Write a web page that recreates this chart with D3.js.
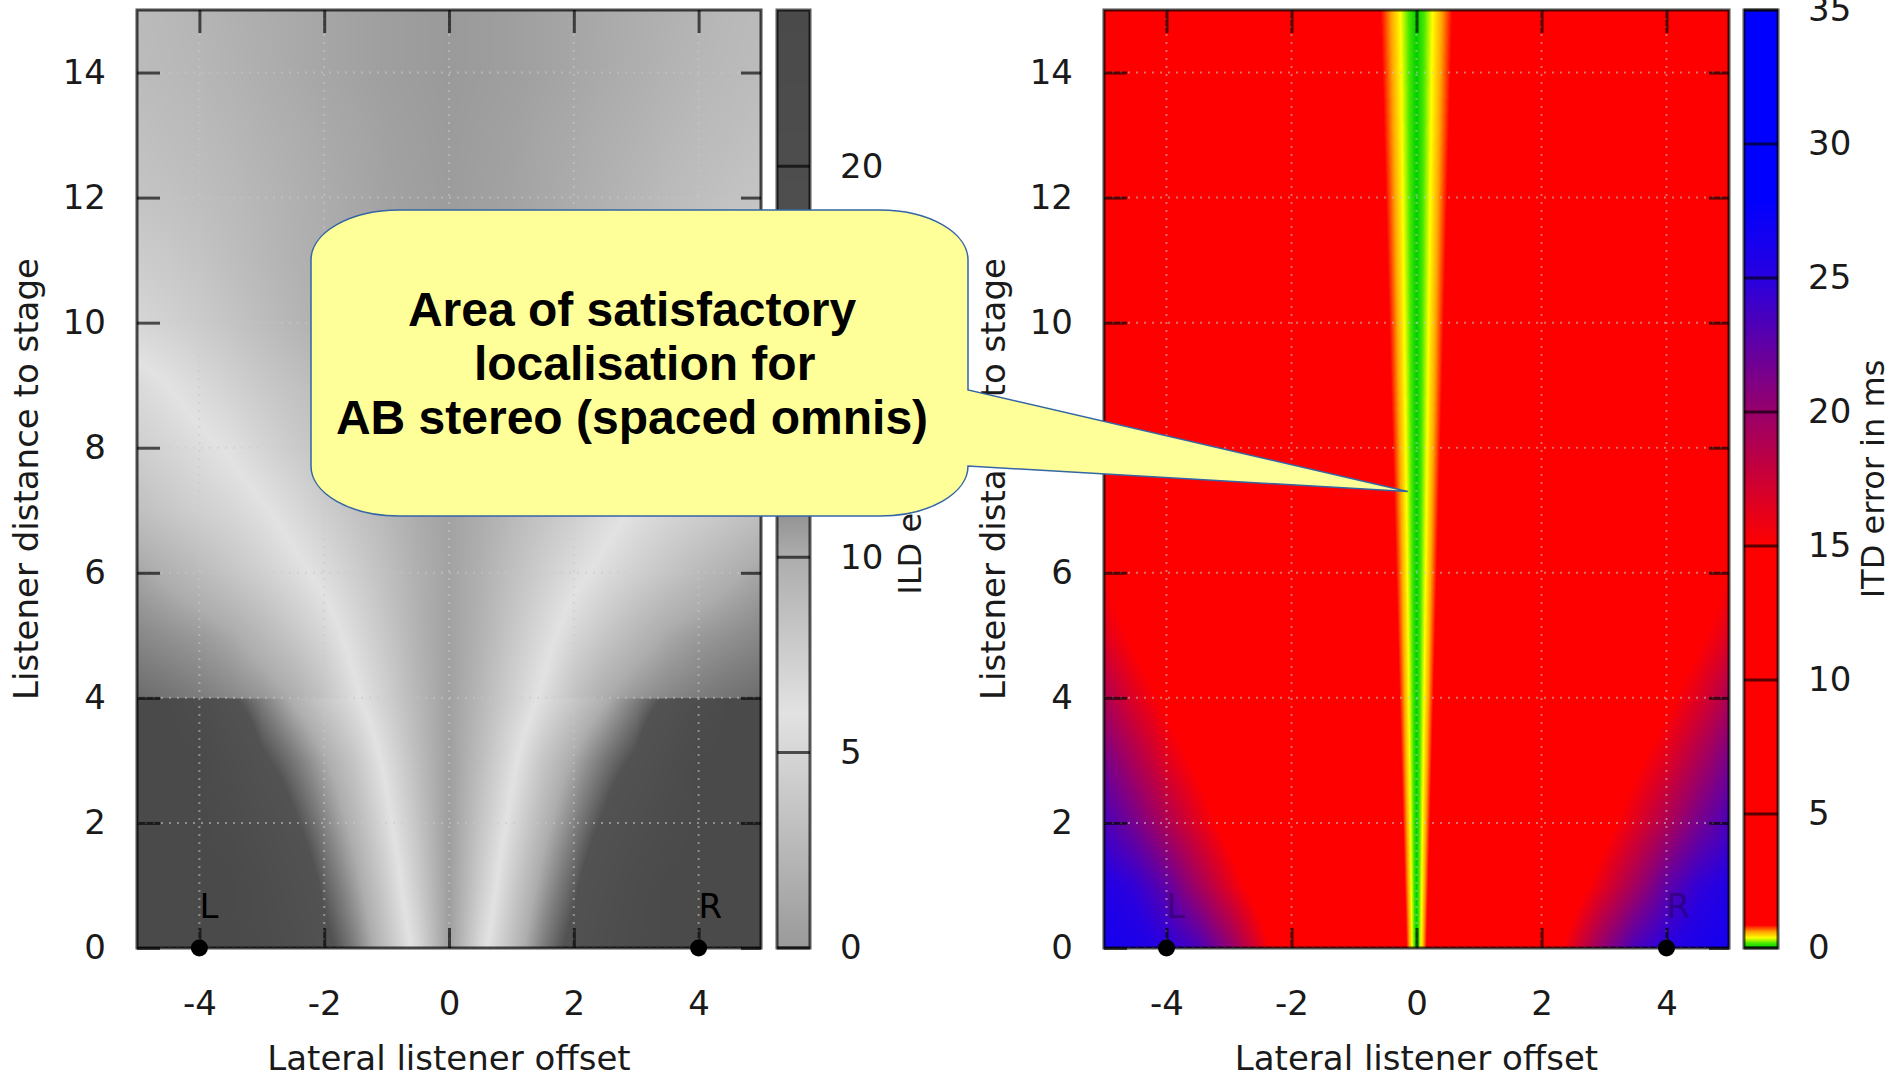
<!DOCTYPE html>
<html>
<head>
<meta charset="utf-8">
<script src="https://cdn.jsdelivr.net/npm/d3@7"></script>
<style>
  html, body { margin: 0; padding: 0; background: #ffffff; }
  svg { display: block; font-family: "DejaVu Sans", sans-serif; }
</style>
</head>
<body>
<svg id="chart" width="1891" height="1077"></svg>
<script>
// ---------------------------------------------------------------
// Axis ticks
// ---------------------------------------------------------------
const xTicks = [-4, -2, 0, 2, 4];
const yTicks = [0, 2, 4, 6, 8, 10, 12, 14];
const ildTicks = [0, 5, 10, 15, 20];
const itdTicks = [0, 5, 10, 15, 20, 25, 30, 35];

// Loudspeaker positions on the stage line (lateral offset)
const speakers = [{ name: "L", x: -4 }, { name: "R", x: 4 }];

// ---------------------------------------------------------------
// Sampled error fields: columns = lateral offset, rows = distance
// ---------------------------------------------------------------
const gridX = [-5, -4.5, -4, -3.5, -3, -2.5, -2, -1.5, -1, -0.5, 0, 0.5, 1, 1.5, 2, 2.5, 3, 3.5, 4, 4.5, 5];

// ILD error in dB
const ildRowsY = [0, 1, 2, 3, 3.98, 4, 5, 6, 7, 8, 9, 10, 11, 12, 13, 14, 15];
const ildValues = [
  [24, 24, 24, 24, 22, 19, 15, 12, 8.6, 5.2, 0.3, 5.2, 8.6, 12, 15, 19, 22, 24, 24, 24, 24],
  [24, 24, 24, 24, 21, 17, 13.4, 10.6, 7.6, 4.2, 0.3, 4.2, 7.6, 10.6, 13.4, 17, 21, 24, 24, 24, 24],
  [24, 24, 24, 22, 18, 14.5, 11.8, 9.3, 6.5, 3.5, 0.3, 3.5, 6.5, 9.3, 11.8, 14.5, 18, 22, 24, 24, 24],
  [24, 24, 24, 19, 14.5, 12.4, 10.2, 8.1, 5.5, 2.9, 0.4, 2.9, 5.5, 8.1, 10.2, 12.4, 14.5, 19, 24, 24, 24],
  [24, 24, 20, 14.5, 12.0, 9.8, 8.0, 6.3, 4.4, 2.4, 0.5, 2.4, 4.4, 6.3, 8.0, 9.8, 12.0, 14.5, 20, 24, 24],
  [12.8, 12.5, 12.1, 11.6, 11, 10, 8.4, 6.3, 4.4, 2.4, 0.5, 2.4, 4.4, 6.3, 8.4, 10, 11, 11.6, 12.1, 12.5, 12.8],
  [11.6, 11.2, 10.8, 10.2, 9.2, 8.1, 6.9, 5.3, 3.7, 2.0, 0.6, 2.0, 3.7, 5.3, 6.9, 8.1, 9.2, 10.2, 10.8, 11.2, 11.6],
  [10.4, 9.7, 9.0, 8.2, 7.4, 6.5, 5.5, 4.3, 3.1, 1.8, 0.7, 1.8, 3.1, 4.3, 5.5, 6.5, 7.4, 8.2, 9.0, 9.7, 10.4],
  [8.6, 8.0, 7.4, 6.9, 6.2, 5.3, 4.3, 3.4, 2.5, 1.5, 0.7, 1.5, 2.5, 3.4, 4.3, 5.3, 6.2, 6.9, 7.4, 8.0, 8.6],
  [7.5, 7.0, 6.4, 5.8, 4.9, 4.1, 3.4, 2.7, 1.9, 1.2, 0.6, 1.2, 1.9, 2.7, 3.4, 4.1, 4.9, 5.8, 6.4, 7.0, 7.5],
  [6.6, 6.0, 5.3, 4.6, 3.9, 3.3, 2.7, 2.1, 1.5, 1.0, 0.5, 1.0, 1.5, 2.1, 2.7, 3.3, 3.9, 4.6, 5.3, 6.0, 6.6],
  [5.0, 4.6, 4.1, 3.5, 2.9, 2.3, 1.8, 1.3, 0.9, 0.7, 0.4, 0.7, 0.9, 1.3, 1.8, 2.3, 2.9, 3.5, 4.1, 4.6, 5.0],
  [4.2, 3.9, 3.5, 3.0, 2.5, 2.0, 1.6, 1.2, 0.85, 0.6, 0.3, 0.6, 0.85, 1.2, 1.6, 2.0, 2.5, 3.0, 3.5, 3.9, 4.2],
  [3.5, 3.3, 3.0, 2.7, 2.3, 1.9, 1.5, 1.1, 0.7, 0.45, 0.2, 0.45, 0.7, 1.1, 1.5, 1.9, 2.3, 2.7, 3.0, 3.3, 3.5],
  [3.2, 2.9, 2.7, 2.4, 2.0, 1.7, 1.3, 1.0, 0.6, 0.35, 0.1, 0.35, 0.6, 1.0, 1.3, 1.7, 2.0, 2.4, 2.7, 2.9, 3.2],
  [2.8, 2.6, 2.4, 2.05, 1.7, 1.35, 1.0, 0.7, 0.4, 0.2, 0, 0.2, 0.4, 0.7, 1.0, 1.35, 1.7, 2.05, 2.4, 2.6, 2.8],
  [2.7, 2.5, 2.2, 1.9, 1.6, 1.3, 1.0, 0.7, 0.4, 0.2, 0, 0.2, 0.4, 0.7, 1.0, 1.3, 1.6, 1.9, 2.2, 2.5, 2.7]
];

// ITD error in ms
const itdRowsY = [0, 1, 2, 3, 4, 5, 6, 7, 8, 9, 10, 11, 12, 13, 14, 15];
const itdValues = [
  [26.5, 26, 25, 23.5, 20.5, 16.5, 12, 9, 6, 2.66, 0, 2.66, 6, 9, 12, 16.5, 20.5, 23.5, 25, 26, 26.5],
  [25.5, 24.5, 22.5, 19.5, 16.5, 13.5, 10, 7.5, 5, 2.27, 0, 2.27, 5, 7.5, 10, 13.5, 16.5, 19.5, 22.5, 24.5, 25.5],
  [23.5, 21.5, 19, 16.5, 14, 11, 8.5, 6.5, 4.3, 1.98, 0, 1.98, 4.3, 6.5, 8.5, 11, 14, 16.5, 19, 21.5, 23.5],
  [21.5, 19, 16.5, 14.5, 12.5, 9.5, 7.5, 5.7, 3.8, 1.75, 0, 1.75, 3.8, 5.7, 7.5, 9.5, 12.5, 14.5, 16.5, 19, 21.5],
  [19, 16.5, 14.5, 12.5, 10.5, 8.6, 6.8, 5.1, 3.4, 1.57, 0, 1.57, 3.4, 5.1, 6.8, 8.6, 10.5, 12.5, 14.5, 16.5, 19],
  [16.5, 14.5, 12.8, 11, 9.5, 7.8, 6.2, 4.6, 3.1, 1.43, 0, 1.43, 3.1, 4.6, 6.2, 7.8, 9.5, 11, 12.8, 14.5, 16.5],
  [15, 13, 11.5, 10, 8.8, 7.2, 5.7, 4.3, 2.9, 1.31, 0, 1.31, 2.9, 4.3, 5.7, 7.2, 8.8, 10, 11.5, 13, 15],
  [13.4, 12, 10.7, 9.4, 8.2, 6.7, 5.3, 4.0, 2.7, 1.21, 0, 1.21, 2.7, 4.0, 5.3, 6.7, 8.2, 9.4, 10.7, 12, 13.4],
  [12.4, 11.2, 10, 8.8, 7.6, 6.3, 5.0, 3.7, 2.5, 1.12, 0, 1.12, 2.5, 3.7, 5.0, 6.3, 7.6, 8.8, 10, 11.2, 12.4],
  [11.6, 10.5, 9.4, 8.3, 7.1, 5.9, 4.7, 3.5, 2.3, 1.04, 0, 1.04, 2.3, 3.5, 4.7, 5.9, 7.1, 8.3, 9.4, 10.5, 11.6],
  [10.9, 9.9, 8.9, 7.8, 6.7, 5.5, 4.4, 3.3, 2.15, 0.98, 0, 0.98, 2.15, 3.3, 4.4, 5.5, 6.7, 7.8, 8.9, 9.9, 10.9],
  [10.3, 9.3, 8.4, 7.3, 6.3, 5.2, 4.1, 3.1, 2.0, 0.92, 0, 0.92, 2.0, 3.1, 4.1, 5.2, 6.3, 7.3, 8.4, 9.3, 10.3],
  [9.7, 8.8, 7.9, 6.9, 5.9, 4.9, 3.9, 2.9, 1.85, 0.87, 0, 0.87, 1.85, 2.9, 3.9, 4.9, 5.9, 6.9, 7.9, 8.8, 9.7],
  [9.2, 8.3, 7.5, 6.5, 5.6, 4.6, 3.7, 2.7, 1.68, 0.82, 0, 0.82, 1.68, 2.7, 3.7, 4.6, 5.6, 6.5, 7.5, 8.3, 9.2],
  [8.7, 7.9, 7.1, 6.2, 5.3, 4.4, 3.5, 2.5, 1.56, 0.78, 0, 0.78, 1.56, 2.5, 3.5, 4.4, 5.3, 6.2, 7.1, 7.9, 8.7],
  [8.3, 7.5, 6.7, 5.9, 5.0, 4.2, 3.3, 2.4, 1.50, 0.74, 0, 0.74, 1.50, 2.4, 3.3, 4.2, 5.0, 5.9, 6.7, 7.5, 8.3]
];

// Palettes
const ildStops = [0, 6, 10, 12, 14, 24];
const ildColors = ["#9a9a9a", "#e2e2e2", "#adadad", "#7e7e7e", "#525252", "#4a4a4a"];
const itdStops = [0, 0.18, 0.38, 0.6, 0.85, 15, 20, 25, 28, 35];
const itdColors = ["#00d000", "#48e800", "#ffff00", "#ffa500", "#ff0000", "#ff0000", "#98006a", "#2800e0", "#0000ff", "#0000ff"];

// Annotation
const calloutLines = ["Area of satisfactory", " localisation for", "AB stereo (spaced omnis)"];
const calloutTarget = { x: -0.14, y: 7.3 };

// ---------------------------------------------------------------
// Layout
// ---------------------------------------------------------------
const TOP = 10, BOTTOM = 948;
const svg = d3.select("#chart");

const panels = [
  { left: 137, right: 761, bar: [777, 810], rowsY: ildRowsY, values: ildValues,
    stops: ildStops, colors: ildColors, cMax: 24, cTicks: ildTicks,
    cTitle: "ILD error in dB", cTitleX: 921, yTitleX: 38, markerOpacity: 1 },
  { left: 1104, right: 1729, bar: [1744, 1778], rowsY: itdRowsY, values: itdValues,
    stops: itdStops, colors: itdColors, cMax: 35, cTicks: itdTicks,
    cTitle: "ITD error in ms", cTitleX: 1884, yTitleX: 1005, markerOpacity: 0.3 }
];

function makeLut(stops, colors, vmax, n) {
  const s = d3.scaleLinear().domain(stops).range(colors)
    .interpolate(d3.interpolateRgb).clamp(true);
  const lut = new Uint8ClampedArray(n * 3);
  for (let k = 0; k < n; k++) {
    const c = d3.rgb(s((k / (n - 1)) * vmax));
    lut[3 * k] = c.r; lut[3 * k + 1] = c.g; lut[3 * k + 2] = c.b;
  }
  return { lut, n, vmax };
}

function lookup(L, v, data, o) {
  let k = Math.round((v / L.vmax) * (L.n - 1));
  k = k < 0 ? 0 : (k >= L.n ? L.n - 1 : k);
  data[o] = L.lut[3 * k]; data[o + 1] = L.lut[3 * k + 1]; data[o + 2] = L.lut[3 * k + 2]; data[o + 3] = 255;
}

function cellIndex(arr, v) {
  const i = d3.bisectRight(arr, v) - 1;
  return Math.max(0, Math.min(arr.length - 2, i));
}

// Shade the field on a pixel raster (bilinear shading between samples)
function rasterField(x, y, xs, ys, vals, L) {
  const [left, right] = x.range();
  const [bottom, top] = y.range();
  const w = Math.round(right - left), h = Math.round(bottom - top);
  const canvas = document.createElement("canvas");
  canvas.width = w; canvas.height = h;
  const ctx = canvas.getContext("2d");
  const img = ctx.createImageData(w, h);
  const colIdx = new Int32Array(w), colT = new Float64Array(w);
  for (let i = 0; i < w; i++) {
    const xv = x.invert(left + i + 0.5);
    const c = cellIndex(xs, xv);
    colIdx[i] = c;
    colT[i] = Math.max(0, Math.min(1, (xv - xs[c]) / (xs[c + 1] - xs[c])));
  }
  for (let j = 0; j < h; j++) {
    const yv = y.invert(top + j + 0.5);
    const r = cellIndex(ys, yv);
    const ty = Math.max(0, Math.min(1, (yv - ys[r]) / (ys[r + 1] - ys[r])));
    const A = vals[r], B = vals[r + 1];
    for (let i = 0; i < w; i++) {
      const c = colIdx[i], tx = colT[i];
      const a = A[c] + (A[c + 1] - A[c]) * tx;
      const b = B[c] + (B[c + 1] - B[c]) * tx;
      lookup(L, a + (b - a) * ty, img.data, 4 * (j * w + i));
    }
  }
  ctx.putImageData(img, 0, 0);
  return canvas.toDataURL();
}

function rasterBar(c, x0, x1, L) {
  const [bottom, top] = c.range();
  const w = Math.round(x1 - x0), h = Math.round(bottom - top);
  const canvas = document.createElement("canvas");
  canvas.width = w; canvas.height = h;
  const ctx = canvas.getContext("2d");
  const img = ctx.createImageData(w, h);
  for (let j = 0; j < h; j++) {
    const v = c.invert(top + j + 0.5);
    for (let i = 0; i < w; i++) lookup(L, v, img.data, 4 * (j * w + i));
  }
  ctx.putImageData(img, 0, 0);
  return canvas.toDataURL();
}

const tickStroke = g => g.selectAll(".tick line")
  .attr("stroke", "#000").attr("stroke-opacity", 0.65).attr("stroke-width", 3);
const tickText = g => g.selectAll(".tick text")
  .attr("font-family", "DejaVu Sans").attr("font-size", 34).attr("fill", "#1a1a1a");

const scalesByPanel = [];

panels.forEach(p => {
  const x = d3.scaleLinear().domain([-5, 5]).range([p.left, p.right]);
  const y = d3.scaleLinear().domain([0, 15]).range([BOTTOM, TOP]);
  scalesByPanel.push({ x, y });
  const L = makeLut(p.stops, p.colors, p.cMax, 4096);

  // heat map
  svg.append("image")
    .attr("x", p.left).attr("y", TOP)
    .attr("width", Math.round(p.right - p.left)).attr("height", Math.round(BOTTOM - TOP))
    .attr("preserveAspectRatio", "none")
    .attr("href", rasterField(x, y, gridX, p.rowsY, p.values, L));

  // dotted grid
  const grid = svg.append("g")
    .attr("stroke", "#c8c8c8").attr("stroke-opacity", 0.55)
    .attr("stroke-width", 2).attr("stroke-dasharray", "2,6");
  grid.selectAll("line.gx").data(xTicks).join("line").attr("class", "gx")
    .attr("x1", d => x(d)).attr("x2", d => x(d)).attr("y1", TOP).attr("y2", BOTTOM);
  grid.selectAll("line.gy").data(yTicks).join("line").attr("class", "gy")
    .attr("x1", p.left).attr("x2", p.right).attr("y1", d => y(d)).attr("y2", d => y(d));

  // axes (ticks pointing inward on all four sides)
  const fmt = d => String(d);
  svg.append("g").attr("transform", `translate(0,${BOTTOM})`)
    .call(d3.axisBottom(x).tickValues(xTicks).tickFormat(fmt).tickSizeInner(-20).tickSizeOuter(0).tickPadding(43))
    .call(g => g.select(".domain").remove()).call(tickStroke).call(tickText);
  svg.append("g").attr("transform", `translate(0,${TOP})`)
    .call(d3.axisTop(x).tickValues(xTicks).tickFormat("").tickSizeInner(-23).tickSizeOuter(0))
    .call(g => g.select(".domain").remove()).call(tickStroke);
  svg.append("g").attr("transform", `translate(${p.left},0)`)
    .call(d3.axisLeft(y).tickValues(yTicks).tickFormat(fmt).tickSizeInner(-23).tickSizeOuter(0).tickPadding(31))
    .call(g => g.select(".domain").remove()).call(tickStroke).call(tickText);
  svg.append("g").attr("transform", `translate(${p.right},0)`)
    .call(d3.axisRight(y).tickValues(yTicks).tickFormat("").tickSizeInner(-20).tickSizeOuter(0))
    .call(g => g.select(".domain").remove()).call(tickStroke);

  // frame
  svg.append("rect")
    .attr("x", p.left).attr("y", TOP)
    .attr("width", p.right - p.left).attr("height", BOTTOM - TOP)
    .attr("fill", "none").attr("stroke", "#000").attr("stroke-opacity", 0.7).attr("stroke-width", 3);

  // loudspeakers
  svg.selectAll(null).data(speakers).join("circle")
    .attr("cx", d => x(d.x)).attr("cy", y(0)).attr("r", 8.5).attr("fill", "#000");
  svg.selectAll(null).data(speakers).join("text")
    .attr("x", d => x(d.x)).attr("y", y(0) - 30)
    .attr("font-size", 34).attr("fill", "#000").attr("fill-opacity", p.markerOpacity)
    .text(d => d.name);

  // axis titles
  svg.append("text")
    .attr("x", x(0)).attr("y", 1070)
    .attr("text-anchor", "middle").attr("font-size", 34).attr("fill", "#1a1a1a")
    .text("Lateral listener offset");
  svg.append("text")
    .attr("transform", `translate(${p.yTitleX},${(TOP + BOTTOM) / 2}) rotate(-90)`)
    .attr("text-anchor", "middle").attr("font-size", 34).attr("fill", "#1a1a1a")
    .text("Listener distance to stage");

  // colour bar
  const c = d3.scaleLinear().domain([0, p.cMax]).range([BOTTOM, TOP]);
  const [b0, b1] = p.bar;
  svg.append("image")
    .attr("x", b0).attr("y", TOP)
    .attr("width", b1 - b0).attr("height", Math.round(BOTTOM - TOP))
    .attr("preserveAspectRatio", "none")
    .attr("href", rasterBar(c, b0, b1, L));
  svg.append("g").selectAll("line").data(p.cTicks).join("line")
    .attr("x1", b0).attr("x2", b1).attr("y1", d => c(d)).attr("y2", d => c(d))
    .attr("stroke", "#000").attr("stroke-opacity", 0.65).attr("stroke-width", 3);
  svg.append("rect")
    .attr("x", b0).attr("y", TOP).attr("width", b1 - b0).attr("height", BOTTOM - TOP)
    .attr("fill", "none").attr("stroke", "#000").attr("stroke-opacity", 0.65).attr("stroke-width", 3);
  svg.append("g").attr("transform", `translate(${b1},0)`)
    .call(d3.axisRight(c).tickValues(p.cTicks).tickFormat(fmt).tickSize(0).tickPadding(30))
    .call(g => g.select(".domain").remove()).call(tickText);
  svg.append("text")
    .attr("transform", `translate(${p.cTitleX},${(TOP + BOTTOM) / 2}) rotate(-90)`)
    .attr("text-anchor", "middle").attr("font-size", 32).attr("fill", "#1a1a1a")
    .text(p.cTitle);
});

// ---------------------------------------------------------------
// Callout pointing at the low-error band of the ITD map
// ---------------------------------------------------------------
const box = { left: 311, right: 968, top: 210, bottom: 516, rx: 88, ry: 50, attachTop: 390, attachBottom: 466 };
const tipX = scalesByPanel[1].x(calloutTarget.x);
const tipY = scalesByPanel[1].y(calloutTarget.y);
const arcD = (x, y) => `A${box.rx},${box.ry} 0 0 1 ${x},${y}`;
const calloutPath = [
  `M${box.left + box.rx},${box.top}`,
  `H${box.right - box.rx}`,
  arcD(box.right, box.top + box.ry),
  `V${box.attachTop}`,
  `L${tipX},${tipY}`,
  `L${box.right},${box.attachBottom}`,
  `V${box.bottom - box.ry}`,
  arcD(box.right - box.rx, box.bottom),
  `H${box.left + box.rx}`,
  arcD(box.left, box.bottom - box.ry),
  `V${box.top + box.ry}`,
  arcD(box.left + box.rx, box.top),
  "Z"
].join(" ");
svg.append("path").attr("d", calloutPath)
  .attr("fill", "#ffff99").attr("stroke", "#3465a4").attr("stroke-width", 1.5);

const lineX = [632, 638, 632];
svg.append("g").selectAll("text").data(calloutLines).join("text")
  .attr("x", (t, i) => lineX[i]).attr("y", (t, i) => 326 + i * 54)
  .attr("text-anchor", "middle")
  .style("font-family", "'Liberation Sans', Arial, sans-serif")
  .style("font-weight", "bold").style("font-size", "48px").style("fill", "#000")
  .style("white-space", "pre")
  .text(t => t);
</script>
</body>
</html>
